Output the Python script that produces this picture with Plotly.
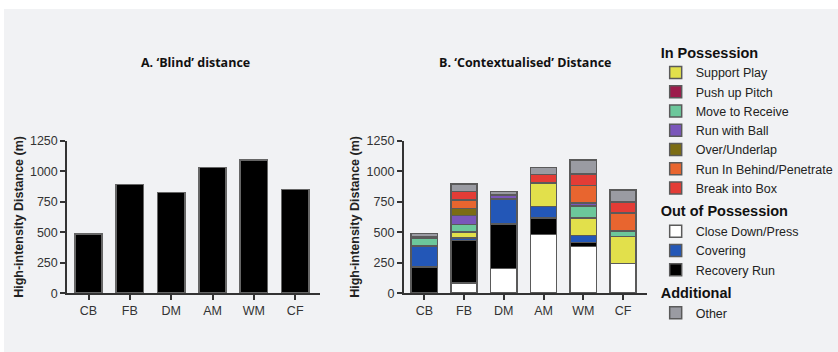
import plotly.graph_objects as go

positions = ["CB", "FB", "DM", "AM", "WM", "CF"]
blind_distance = [486, 890, 827, 1029, 1092, 848]

# contextualised components (bottom to top stacking order)
close_down = [0, 85, 204, 482, 384, 245]
recovery_run = [214, 345, 363, 136, 31, 0]
covering = [173, 21, 206, 91, 57, 0]
support_play = [0, 51, 0, 193, 146, 219]
push_up_pitch = [0, 0, 0, 0, 0, 0]
move_to_receive = [62, 60, 0, 0, 98, 44]
run_with_ball = [12, 75, 32, 0, 24, 0]
over_underlap = [0, 59, 0, 0, 0, 0]
run_in_behind = [0, 69, 0, 0, 144, 149]
break_into_box = [0, 67, 0, 70, 95, 90]
other = [28, 62, 27, 59, 111, 98]

yticks = [0, 250, 500, 750, 1000, 1250]

series = [
    # name, values, color, group, group title, legend rank
    ("Close Down/Press", close_down, "#ffffff", "out", "Out of Possession", 8),
    ("Recovery Run", recovery_run, "#000000", "out", "Out of Possession", 10),
    ("Covering", covering, "#2357b7", "out", "Out of Possession", 9),
    ("Support Play", support_play, "#e2e04b", "in", "In Possession", 1),
    ("Push up Pitch", push_up_pitch, "#9c1c4b", "in", "In Possession", 2),
    ("Move to Receive", move_to_receive, "#6cc79b", "in", "In Possession", 3),
    ("Run with Ball", run_with_ball, "#7a56ba", "in", "In Possession", 4),
    ("Over/Underlap", over_underlap, "#7b6c14", "in", "In Possession", 5),
    ("Run In Behind/Penetrate", run_in_behind, "#e8652f", "in", "In Possession", 6),
    ("Break into Box", break_into_box, "#e33c36", "in", "In Possession", 7),
    ("Other", other, "#9a9ba2", "add", "Additional", 11),
]

BG = "#f1f2f4"
W, H = 834, 343
fig = go.Figure()

fig.add_trace(go.Bar(
    x=positions, y=blind_distance, xaxis="x", yaxis="y",
    marker=dict(color="#000000", line=dict(color="#666666", width=1.5)),
    width=0.66, showlegend=False,
))

for name, vals, col, grp, gtitle, rank in series:
    fig.add_trace(go.Bar(
        x=positions, y=vals, xaxis="x2", yaxis="y2", name=name,
        marker=dict(color=col, line=dict(color="#5a5a5a", width=1.5)),
        width=0.66, legendgroup=grp, legendrank=rank,
        legendgrouptitle=dict(text="<b>" + gtitle + "</b>",
                              font=dict(family="Liberation Sans", size=14.5, color="#111")),
    ))

axis_common = dict(
    showgrid=False, zeroline=False, showline=True, linecolor="#333", linewidth=1.5,
    ticks="outside", ticklen=5, tickwidth=1.5, tickcolor="#333",
    tickfont=dict(family="Liberation Sans", size=12.5, color="#333"),
)

ytitle_font = dict(family="Liberation Sans", size=12.5, color="#222")
ydomain = [(H - 289) / H, (H - 130) / H]
fig.update_layout(
    width=W, height=H,
    margin=dict(l=0, r=0, t=0, b=0),
    paper_bgcolor=BG, plot_bgcolor=BG,
    barmode="stack",
    xaxis=dict(domain=[64 / W, 321 / W], range=[-0.52, 5.6], anchor="y", **axis_common),
    yaxis=dict(domain=ydomain, range=[0, 1250], tickvals=yticks, anchor="x",
               title=dict(text="<b>High-intensity Distance (m)</b>", standoff=4, font=ytitle_font),
               **axis_common),
    xaxis2=dict(domain=[406 / W, 653 / W], range=[-0.52, 5.6], anchor="y2", **axis_common),
    yaxis2=dict(domain=ydomain, range=[0, 1250], tickvals=yticks, anchor="x2",
                title=dict(text="<b>High-intensity Distance (m)</b>", standoff=4, font=ytitle_font),
                **axis_common),
    legend=dict(x=662 / W, y=1 - 21 / H, xanchor="left", yanchor="top",
                traceorder="grouped", tracegroupgap=2, bgcolor="rgba(0,0,0,0)",
                font=dict(family="Liberation Sans", size=12.5, color="#222"),
                itemwidth=30),
    annotations=[
        dict(text="<b>A. ‘Blind’ distance</b>", x=195 / W, y=1 - 48 / H, xref="paper", yref="paper",
             xanchor="center", yanchor="middle",
             showarrow=False, font=dict(family="Open Sans", size=12.5, color="#111")),
        dict(text="<b>B. ‘Contextualised’ Distance</b>", x=529 / W, y=1 - 48 / H, xref="paper", yref="paper",
             xanchor="center", yanchor="middle",
             showarrow=False, font=dict(family="Open Sans", size=12.5, color="#111")),
    ],
)

fig.write_html("out.html", post_script="document.body.style.margin='9px 0 0 4px';document.body.style.background='#ffffff';document.body.style.overflow='hidden';")
